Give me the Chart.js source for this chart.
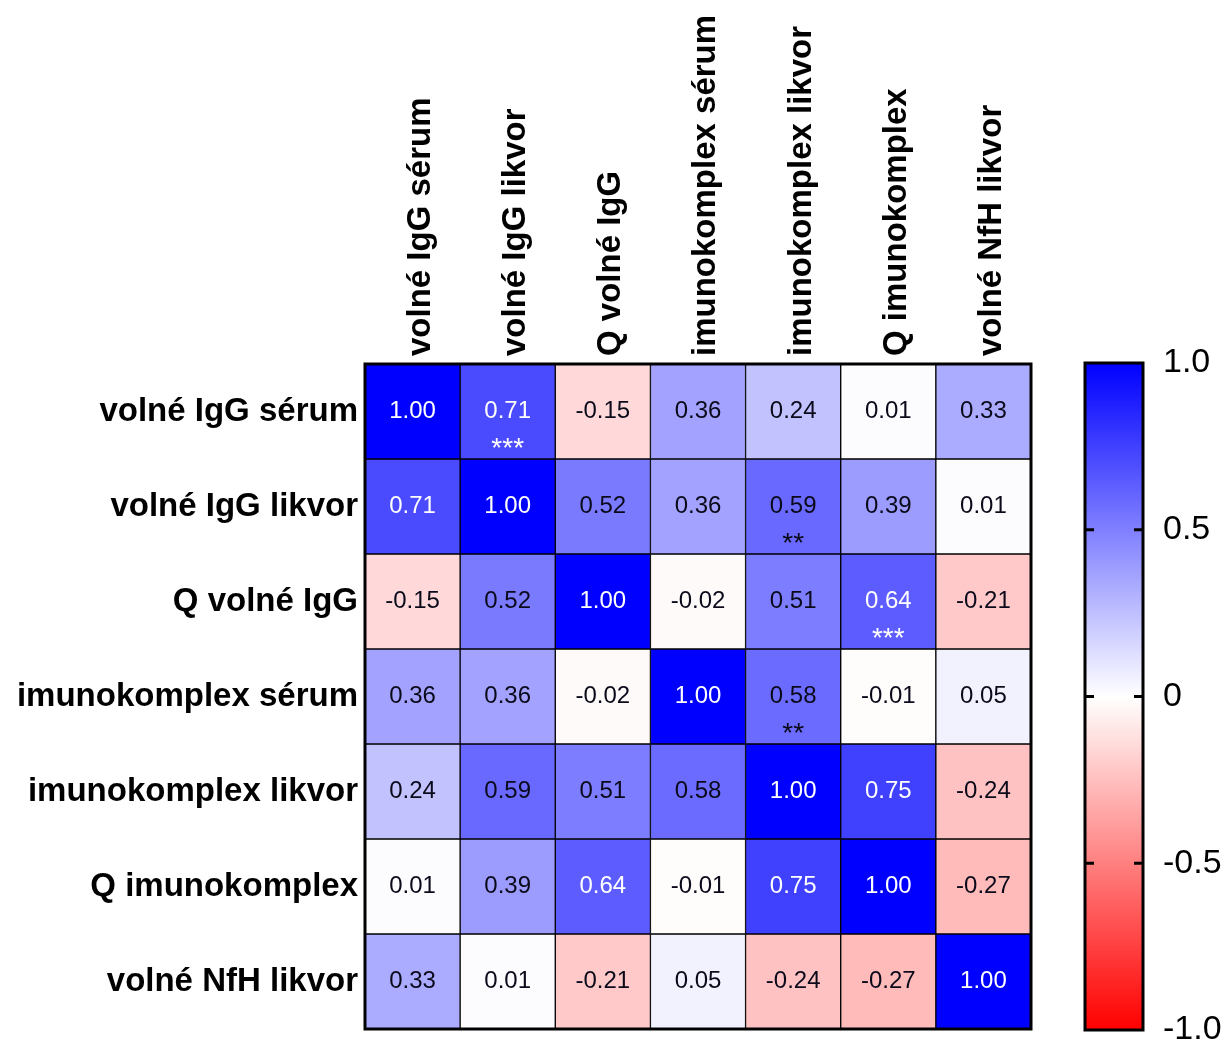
<!DOCTYPE html>
<html>
<head>
<meta charset="utf-8">
<script src="https://cdn.jsdelivr.net/npm/chart.js@4"></script>
<style>
  body { margin: 0; background: #fff; }
  #wrap { position: relative; width: 1229px; height: 1046px; }
  #heat { position: absolute; left: 0; top: 0; }
  #bar { position: absolute; left: 1060px; top: 0; }
</style>
</head>
<body>
<div id="wrap">
  <canvas id="heat" width="1060" height="1046"></canvas>
  <canvas id="bar" width="169" height="1046"></canvas>
</div>
<script>
// proměnné (sloupce = řádky)
const variables = ['volné IgG sérum', 'volné IgG likvor', 'Q volné IgG', 'imunokomplex sérum',
                   'imunokomplex likvor', 'Q imunokomplex', 'volné NfH likvor'];

// korelační matice po řádcích
const row0 = [1.00, 0.71, -0.15, 0.36, 0.24, 0.01, 0.33];
const row1 = [0.71, 1.00, 0.52, 0.36, 0.59, 0.39, 0.01];
const row2 = [-0.15, 0.52, 1.00, -0.02, 0.51, 0.64, -0.21];
const row3 = [0.36, 0.36, -0.02, 1.00, 0.58, -0.01, 0.05];
const row4 = [0.24, 0.59, 0.51, 0.58, 1.00, 0.75, -0.24];
const row5 = [0.01, 0.39, 0.64, -0.01, 0.75, 1.00, -0.27];
const row6 = [0.33, 0.01, -0.21, 0.05, -0.24, -0.27, 1.00];
const matrix = [row0, row1, row2, row3, row4, row5, row6];

// hvězdičky významnosti [řádek, sloupec, text]
const stars = [[0, 1, '***'], [1, 4, '**'], [2, 5, '***'], [3, 4, '**']];

// barevná škála
const scaleTicks = [-1, -0.5, 0, 0.5, 1];

const FONT = '"Liberation Sans", Arial, Helvetica, sans-serif';

function cellColor(v) {
    if (v >= 0) {
        const c = Math.round(255 * (1 - v));
        return `rgb(${c},${c},255)`;
    }
    const c = Math.round(255 * (1 + v));
    return `rgb(255,${c},${c})`;
}

const framePlugin = {
    id: 'frame',
    afterDraw(chart) {
        const a = chart.chartArea, ctx = chart.ctx;
        ctx.save();
        ctx.strokeStyle = '#000';
        ctx.lineWidth = 3;
        ctx.strokeRect(a.left, a.top, a.right - a.left, a.bottom - a.top);
        ctx.restore();
    }
};

const cellText = {
    id: 'cellText',
    afterDatasetsDraw(chart) {
        const ctx = chart.ctx;
        ctx.save();
        ctx.textAlign = 'center';
        matrix.forEach((row, r) => {
            const meta = chart.getDatasetMeta(r);
            row.forEach((v, c) => {
                const el = meta.data[c];
                const cx = el.x, cy = (el.y + el.base) / 2;
                ctx.fillStyle = Math.abs(v) >= 0.6 ? '#fff' : '#0a0a1a';
                ctx.font = '24px ' + FONT;
                ctx.textBaseline = 'middle';
                ctx.fillText(v.toFixed(2), cx, cy);
                const s = stars.find(st => st[0] === r && st[1] === c);
                if (s) {
                    ctx.font = '28px ' + FONT;
                    ctx.textBaseline = 'alphabetic';
                    ctx.fillText(s[2], cx, cy + 45);
                }
            });
        });
        ctx.restore();
    }
};

new Chart(document.getElementById('heat'), {
    type: 'bar',
    data: {
        labels: variables,
        datasets: matrix.map((row, r) => ({
            label: variables[r],
            data: row.map(() => 1),
            backgroundColor: row.map(cellColor),
            borderColor: '#000',
            borderWidth: 1,
            borderSkipped: false,
            barPercentage: 1,
            categoryPercentage: 1
        }))
    },
    options: {
        responsive: false,
        animation: false,
        events: [],
        layout: { padding: { left: 0, top: 0, right: 29, bottom: 17 } },
        plugins: { legend: { display: false }, tooltip: { enabled: false } },
        scales: {
            x: {
                position: 'top',
                stacked: true,
                grid: { display: false },
                border: { display: false },
                ticks: {
                    autoSkip: false, minRotation: 90, maxRotation: 90, padding: 0,
                    labelOffset: 48,
                    color: '#000', font: { family: FONT, size: 33, weight: 'bold' }
                },
                afterFit(scale) {
                    scale.height = 364;
                    scale.paddingLeft = 0; scale.paddingRight = 0;
                }
            },
            y: {
                stacked: true,
                reverse: true,
                min: 0,
                max: variables.length,
                grid: { display: false, drawTicks: false },
                border: { display: false },
                afterBuildTicks(scale) {
                    scale.ticks = variables.map((n, i) => ({ value: i + 0.5 }));
                },
                ticks: {
                    padding: 7,
                    color: '#000',
                    font: { family: FONT, size: 33, weight: 'bold' },
                    callback: (v) => variables[Math.floor(v)]
                },
                afterFit(scale) {
                    scale.width = 365;
                    scale.paddingTop = 0; scale.paddingBottom = 0;
                }
            }
        }
    },
    plugins: [cellText, framePlugin]
});

const barTicks = {
    id: 'barTicks',
    afterDraw(chart) {
        const a = chart.chartArea, ctx = chart.ctx, y = chart.scales.y;
        ctx.save();
        ctx.strokeStyle = '#000';
        ctx.lineWidth = 3;
        scaleTicks.slice(1, -1).forEach(t => {
            const py = y.getPixelForValue(t);
            ctx.beginPath();
            ctx.moveTo(a.left, py); ctx.lineTo(a.left + 9, py);
            ctx.moveTo(a.right - 9, py); ctx.lineTo(a.right, py);
            ctx.stroke();
        });
        ctx.restore();
    }
};

new Chart(document.getElementById('bar'), {
    type: 'bar',
    data: {
        labels: [''],
        datasets: [{
            data: [[scaleTicks[0], scaleTicks[scaleTicks.length - 1]]],
            backgroundColor(ctx) {
                const a = ctx.chart.chartArea;
                if (!a) return '#fff';
                const g = ctx.chart.ctx.createLinearGradient(0, a.bottom, 0, a.top);
                g.addColorStop(0, cellColor(-1));
                g.addColorStop(0.5, cellColor(0));
                g.addColorStop(1, cellColor(1));
                return g;
            },
            borderWidth: 0,
            barPercentage: 1,
            categoryPercentage: 1
        }]
    },
    options: {
        responsive: false,
        animation: false,
        events: [],
        layout: { padding: { left: 25, top: 363, right: 0, bottom: 16 } },
        plugins: { legend: { display: false }, tooltip: { enabled: false } },
        scales: {
            x: { display: false },
            y: {
                position: 'right',
                min: scaleTicks[0],
                max: scaleTicks[scaleTicks.length - 1],
                grid: { display: false, drawTicks: false },
                border: { display: false },
                afterBuildTicks(scale) {
                    scale.ticks = scaleTicks.map(v => ({ value: v }));
                },
                ticks: {
                    padding: 20,
                    color: '#000',
                    font: { family: FONT, size: 34 },
                    callback: (v) => v === 0 ? '0' : v.toFixed(1)
                },
                afterFit(scale) {
                    scale.width = 86;
                    scale.paddingTop = 0; scale.paddingBottom = 0;
                }
            }
        }
    },
    plugins: [framePlugin, barTicks]
});
</script>
</body>
</html>
